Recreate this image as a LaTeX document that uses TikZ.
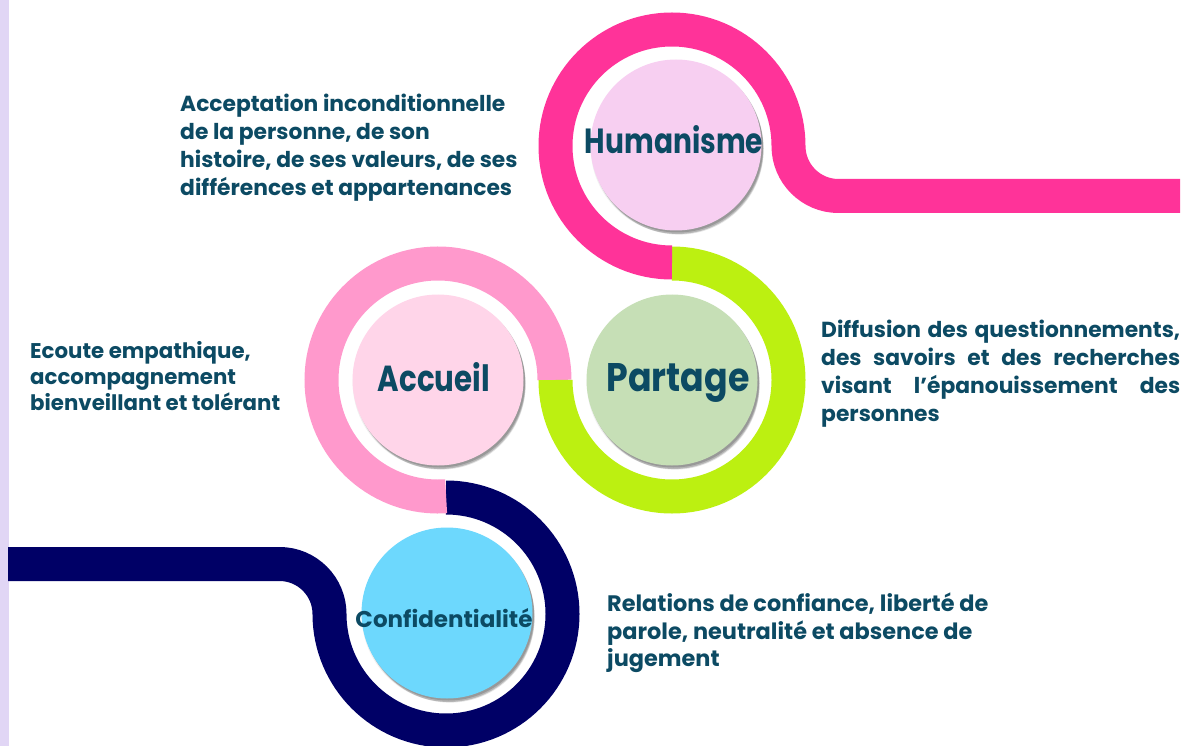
\documentclass[tikz,border=0pt]{standalone}
\usepackage{fontspec}
\setmainfont{Poppins}
\usepackage{graphicx}
\usetikzlibrary{shadows}
\definecolor{magentaR}{HTML}{FF3399}
\definecolor{limeR}{HTML}{BCF011}
\definecolor{pinkR}{HTML}{FF99CC}
\definecolor{navyR}{HTML}{000066}
\definecolor{humC}{HTML}{F7CFF1}
\definecolor{parC}{HTML}{C6DFB6}
\definecolor{accC}{HTML}{FFD5E9}
\definecolor{conC}{HTML}{6DD8FD}
\definecolor{txt}{HTML}{0C4A63}
\definecolor{lav}{HTML}{E1D6F5}
\begin{document}
\begin{tikzpicture}[x=1pt,y=1pt,
  ring/.style={line width=34pt, line cap=butt},
  disc/.style={circle, minimum size=171pt, inner sep=0pt,
    drop shadow={shadow xshift=1pt, shadow yshift=-2.5pt, shadow scale=1.01, opacity=0.06, fill=black},
    drop shadow={shadow xshift=3pt, shadow yshift=-5pt, shadow scale=0.99, opacity=0.10, fill=black},
    drop shadow={shadow xshift=2pt, shadow yshift=-3.5pt, opacity=0.16, fill=black},
    drop shadow={shadow xshift=1.5pt, shadow yshift=-2pt, opacity=0.16, fill=black}},
  lbl/.style={text=txt, inner sep=0pt, anchor=base},
  para/.style={text=txt, inner sep=0pt, anchor=north west, align=left,
    font=\bfseries\fontsize{21.8}{28}\selectfont}]
\useasboundingbox (0,0) rectangle (1184,-746);
\fill[lav] (0,0) rectangle (9,-746);
% ring centres
\coordinate (hc) at (672,-146);
\coordinate (pc) at (672,-380);
\coordinate (ac) at (438,-380);
\coordinate (cc) at (446,-614);
% rings
\draw[ring, navyR] (cc) ++(90:116.5) arc[start angle=90, end angle=-180, radius=116.5]
  arc[start angle=0, end angle=90, radius=50] -- (8,-564);
\draw[ring, pinkR] (ac) ++(-86:116.5) arc[start angle=-86, end angle=-360, radius=116.5];
\draw[ring, limeR] (pc) ++(90:116.5) arc[start angle=90, end angle=-180, radius=116.5];
\draw[ring, magentaR] (hc) ++(-90:116.5) arc[start angle=-90, end angle=-360, radius=116.5]
  arc[start angle=180, end angle=270, radius=50] -- (1180,-196);
% discs
\node[disc, fill=humC] (hum) at (676,-145) {};
\node[disc, fill=parC] (par) at (672,-380) {};
\node[disc, fill=accC] (acc) at (438,-380) {};
\node[disc, fill=conC] (con) at (447,-613) {};
% labels
\node[lbl] (humL) at (674,-154) {\resizebox{178pt}{28pt}{\bfseries Humanisme}};
\node[lbl] (accL) at (434,-391) {\resizebox{112pt}{29pt}{\bfseries Accueil}};
\node[lbl] (parL) at (678,-391) {\resizebox{143pt}{28pt}{\bfseries Partage}};
\node[lbl] (conL) at (444,-627) {\resizebox{177pt}{19pt}{\bfseries Confidentialité}};
% texts
\node[para] (humT) at (180,-94) {Acceptation inconditionnelle\\de la personne, de son\\histoire, de ses valeurs, de ses\\différences et appartenances};
\node[para] (parT) at (821,-320) {\makebox[359pt][s]{Diffusion des questionnements,}\\\makebox[359pt][s]{des savoirs et des recherches}\\\makebox[359pt][s]{visant l’épanouissement des}\\personnes};
\node[para, font=\bfseries\fontsize{21.3}{26}\selectfont] (accT) at (30,-341) {Ecoute empathique,\\accompagnement\\bienveillant et tolérant};
\node[para, font=\bfseries\fontsize{22.4}{27.5}\selectfont] (conT) at (607,-593) {Relations de confiance, liberté de\\parole, neutralité et absence de\\jugement};
\end{tikzpicture}
\end{document}
